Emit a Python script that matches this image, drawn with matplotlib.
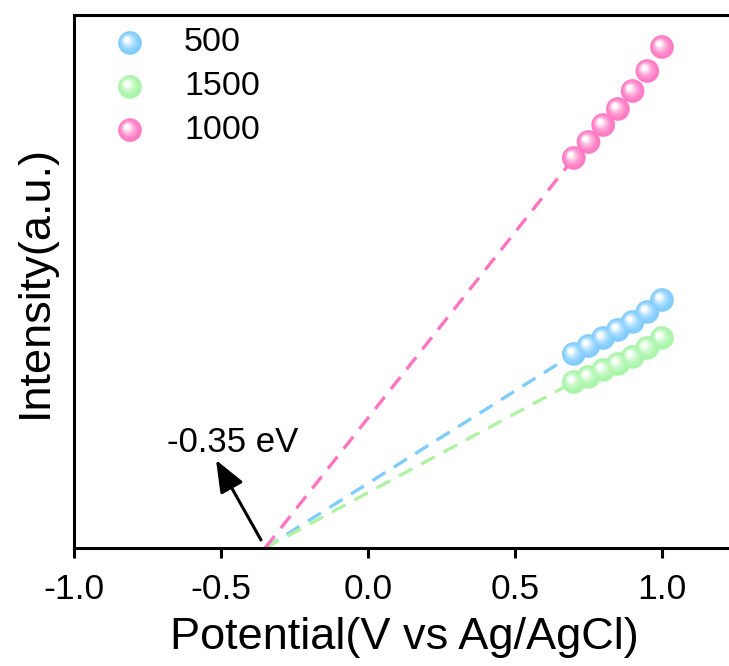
import numpy as np
import matplotlib
matplotlib.use('Agg')
import matplotlib.pyplot as plt
from matplotlib.transforms import offset_copy
from matplotlib.colors import to_rgb

# ---- data ----
potential = [0.70, 0.75, 0.80, 0.85, 0.90, 0.95, 1.00]
series_labels = ['500', '1500', '1000']
int_500 = [194, 202, 210, 218, 226, 236, 248]
int_1500 = [166, 171, 178, 184, 191, 200, 210]
int_1000 = [390, 406, 423, 439, 457, 477, 501]
intercept = -0.35
annot_text = '-0.35 eV'
xticks = [-1.0, -0.5, 0.0, 0.5, 1.0]

colors = ['#80ccff', '#a8f5a8', '#ff7ac4']
line_colors = ['#7fcdf8', '#b0f2a2', '#ff74c0']
series = [int_500, int_1500, int_1000]

plt.rcParams['font.family'] = ['Liberation Sans', 'DejaVu Sans']
plt.rcParams['axes.unicode_minus'] = False

fig = plt.figure(figsize=(7.29, 6.66), dpi=100)
ax = fig.add_axes([74 / 729, 118 / 666, 661.5 / 729, 533 / 666])
ax.set_xlim(-1.0, 1.25)
ax.set_ylim(0, 533)


def sphere(ax, xs, ys, color, diam_pt, transform, zorder):
    base = np.array(to_rgb(color))
    n = 14
    for k in range(n):
        f = k / (n - 1)
        d = diam_pt * (1 - 0.78 * f)
        dx = -0.13 * diam_pt * f
        dy = 0.13 * diam_pt * f
        w = 0.97 * f ** 1.8
        c = base + (1 - base) * w
        tr = offset_copy(transform, fig=ax.figure, x=dx, y=dy, units='points')
        ax.scatter(xs, ys, s=d ** 2, color=[tuple(c)], edgecolors='none',
                   transform=tr, zorder=zorder + k * 0.01, clip_on=False)


# dashed extrapolation lines
for vals, lc in zip(series, line_colors):
    ax.plot([intercept, potential[0]], [0, vals[0]], color=lc, lw=2.4,
            dashes=(4.6, 3.0), zorder=2, solid_capstyle='butt')

# markers
for i, (vals, col) in enumerate(zip(series, colors)):
    sphere(ax, potential, vals, col, 17, ax.transData, zorder=3 + i)

# legend (manual)
leg_y = [0.9475, 0.865, 0.784]
for lab, col, ly in zip(series_labels, colors, leg_y):
    sphere(ax, [0.0847], [ly], col, 17, ax.transAxes, zorder=10)
    ax.text(0.1663, ly, lab, transform=ax.transAxes, fontsize=24.5,
            va='center', ha='left')

# arrow and annotation
ax.annotate('', xy=(-0.517, 88), xytext=(-0.364, 8),
            arrowprops=dict(arrowstyle='-|>,head_length=0.7,head_width=0.28',
                            lw=2.2, color='black',
                            mutation_scale=28, shrinkA=0, shrinkB=0))
ax.text(-0.459, 106, annot_text, fontsize=25, ha='center', va='center')

# axes styling
for s in ['top', 'left', 'bottom']:
    ax.spines[s].set_linewidth(2.2)
ax.spines['right'].set_visible(False)
ax.set_xticks(xticks)
ax.set_xticklabels([f'{t:.1f}' for t in xticks])
ax.tick_params(axis='x', direction='out', length=7, width=2.2,
               labelsize=25.5, pad=11)
ax.set_yticks([])

ax.set_xlabel('Potential(V vs Ag/AgCl)', fontsize=32.5, va='center', ha='center')
ax.xaxis.set_label_coords(0.499, -0.167)
ax.set_ylabel('Intensity(a.u.)', fontsize=32.5, va='center', ha='center')
ax.yaxis.set_label_coords(-0.059, 0.5)

fig.savefig('out.png', dpi=100)
